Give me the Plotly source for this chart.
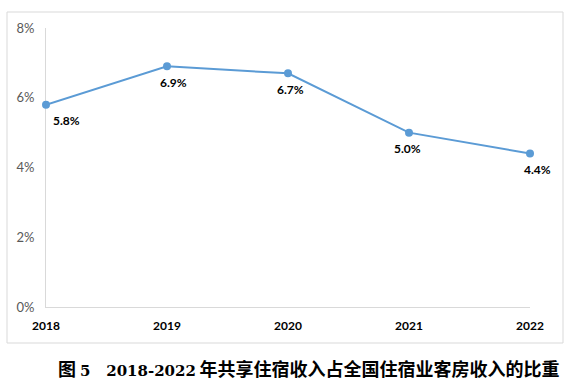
import plotly.graph_objects as go

years = [2018, 2019, 2020, 2021, 2022]
share = [5.8, 6.9, 6.7, 5.0, 4.4]
labels = ["5.8%", "6.9%", "6.7%", "5.0%", "4.4%"]
y_ticks = [0, 2, 4, 6, 8]
y_tick_text = ["0%", "2%", "4%", "6%", "8%"]
title_fig = "图"
title_num = "5"
title_years = "2018-2022"
title_rest = "年共享住宿收入占全国住宿业客房收入的比重"

# label offsets (style only)
label_dx = [20, 6, 2, -2, 7]
label_dy = -16

fig = go.Figure()
fig.add_trace(go.Scatter(
    x=years, y=share, mode="lines+markers",
    line=dict(color="#5B9BD5", width=2),
    marker=dict(color="#5B9BD5", size=8),
    cliponaxis=False,
    hoverinfo="skip",
))

L, R, T, B = 46, 42, 28, 81
W, H = 572, 388
pw, ph = W - L - R, H - T - B

annotations = [dict(
    x=x, y=y, xref="x", yref="y", text=t, showarrow=False,
    xshift=dx, yshift=label_dy,
    font=dict(family="Lato, Liberation Sans, sans-serif", size=12, color="#000000", weight="bold"),
) for x, y, t, dx in zip(years, share, labels, label_dx)]

num_style = "font-family:'DejaVu Serif';font-size:15px"
title_html = (f"{title_fig}\u00a0<span style=\"{num_style}\">{title_num}\u00a0\u00a0\u00a0{title_years}</span>"
              f"\u2009{title_rest}")
annotations.append(dict(
    text=title_html, xref="paper", yref="paper",
    x=(562 - L) / pw, xanchor="right",
    y=(H - B - 368) / ph, yanchor="middle",
    showarrow=False,
    font=dict(family="Noto Sans CJK SC, serif", size=18, color="#000000", weight="bold"),
))

fig.update_layout(
    width=W, height=H,
    margin=dict(l=L, r=R, t=T, b=B),
    paper_bgcolor="white", plot_bgcolor="white",
    showlegend=False,
    hovermode=False,
    xaxis=dict(
        range=[years[0], years[-1]],
        tickvals=years, ticktext=[str(y) for y in years],
        showgrid=False, zeroline=False,
        showline=True, linecolor="#D9D9D9", linewidth=1,
        layer="below traces",
        ticks="", ticklabelstandoff=8,
        tickfont=dict(family="Lato, Liberation Sans, sans-serif", size=12, color="#000000", weight="bold"),
    ),
    yaxis=dict(
        range=[0, 8],
        tickvals=y_ticks, ticktext=y_tick_text,
        showgrid=False, zeroline=False,
        showline=True, linecolor="#D9D9D9", linewidth=1,
        layer="below traces",
        ticks="", ticklabelstandoff=8,
        tickfont=dict(family="Lato, Liberation Sans, sans-serif", size=13, color="#595959"),
    ),
    shapes=[dict(
        type="rect", xref="paper", yref="paper",
        x0=(7 - L) / pw, x1=(563 - L) / pw,
        y0=(H - B - 343) / ph, y1=(H - B - 12) / ph,
        line=dict(color="#D9D9D9", width=1), fillcolor="rgba(0,0,0,0)", layer="below",
    )],
    annotations=annotations,
)

fig.write_html("out.html", config={"displayModeBar": False, "staticPlot": True},
               post_script="document.body.style.margin='0';document.body.style.overflow='hidden';")
